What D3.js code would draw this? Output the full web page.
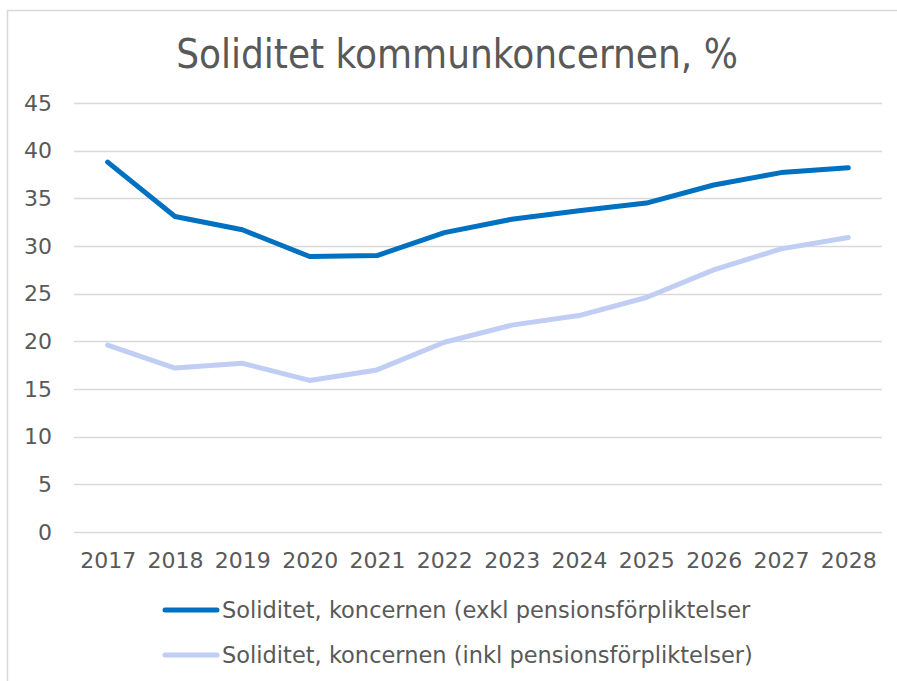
<!DOCTYPE html>
<html>
<head>
<meta charset="utf-8">
<script src="https://cdn.jsdelivr.net/npm/d3@7"></script>
<style>
  body { margin: 0; background: #fff; }
  svg text { font-family: "DejaVu Sans", Verdana, sans-serif; fill: #595959; }
  svg text.title { font-family: "DejaVu Sans Condensed", "DejaVu Sans", sans-serif; font-stretch: condensed; }
</style>
</head>
<body>
<div id="chart"></div>
<script>
// Data
const years = ["2017", "2018", "2019", "2020", "2021", "2022", "2023", "2024", "2025", "2026", "2027", "2028"];
const exklValues = [38.8, 33.1, 31.7, 28.9, 29.0, 31.4, 32.8, 33.7, 34.5, 36.4, 37.7, 38.2];
const inklValues = [19.6, 17.2, 17.7, 15.9, 17.0, 19.9, 21.7, 22.7, 24.6, 27.5, 29.7, 30.9];
const yTicks = [0, 5, 10, 15, 20, 25, 30, 35, 40, 45];
const seriesNames = [
    "Soliditet, koncernen (exkl pensionsförpliktelser",
    "Soliditet, koncernen (inkl pensionsförpliktelser)"
];
const seriesColors = ["#0070C0", "#C0CDF4"];

const width = 897, height = 681;
const plot = { left: 74, right: 882, top: 103, bottom: 532 };

const svg = d3.select("#chart").append("svg")
    .attr("width", width)
    .attr("height", height);

// Chart area border
svg.append("rect")
    .attr("x", 7.5)
    .attr("y", 10.5)
    .attr("width", width + 10)
    .attr("height", height + 10)
    .attr("fill", "#fff")
    .attr("stroke", "#d9d9d9")
    .attr("stroke-width", 1.5);

// Title
svg.append("text")
    .attr("class", "title")
    .attr("x", 457)
    .attr("y", 68)
    .attr("text-anchor", "middle")
    .style("font-size", "40px")
    .text("Soliditet kommunkoncernen, %");

const x = d3.scalePoint()
    .domain(years)
    .range([plot.left, plot.right])
    .padding(0.5);

const y = d3.scaleLinear()
    .domain([0, 45])
    .range([plot.bottom, plot.top]);

// Gridlines
svg.append("g")
    .selectAll("line")
    .data(yTicks)
    .join("line")
    .attr("x1", plot.left)
    .attr("x2", plot.right)
    .attr("y1", d => Math.round(y(d)) + 0.5)
    .attr("y2", d => Math.round(y(d)) + 0.5)
    .attr("stroke", "#d9d9d9")
    .attr("stroke-width", 1.5);

// Y axis labels
const yAxis = svg.append("g")
    .attr("transform", `translate(${plot.left - 8},0)`)
    .call(d3.axisLeft(y).tickValues(yTicks).tickSize(0).tickPadding(14));
yAxis.select(".domain").remove();
yAxis.selectAll("text")
    .attr("fill", "#595959")
    .style("font-size", "22px");

// X axis labels
const xAxis = svg.append("g")
    .attr("transform", `translate(0,${plot.bottom})`)
    .call(d3.axisBottom(x).tickSize(0).tickPadding(20));
xAxis.select(".domain").remove();
xAxis.selectAll("text")
    .attr("fill", "#595959")
    .style("font-size", "22px");

// Lines
const line = d3.line()
    .x((d, i) => x(years[i]))
    .y(d => y(d));

[exklValues, inklValues].forEach((vals, i) => {
    svg.append("path")
        .datum(vals)
        .attr("fill", "none")
        .attr("stroke", seriesColors[i])
        .attr("stroke-width", 5)
        .attr("stroke-linecap", "round")
        .attr("stroke-linejoin", "round")
        .attr("d", line);
});

// Legend
const legend = svg.append("g");
seriesNames.forEach((name, i) => {
    const ly = 610 + i * 45;
    legend.append("line")
        .attr("x1", 165)
        .attr("x2", 217)
        .attr("y1", ly)
        .attr("y2", ly)
        .attr("stroke", seriesColors[i])
        .attr("stroke-width", 5)
        .attr("stroke-linecap", "round");
    legend.append("text")
        .attr("x", 222)
        .attr("y", ly + 8)
        .style("font-size", "22.5px")
        .text(name);
});
</script>
</body>
</html>
